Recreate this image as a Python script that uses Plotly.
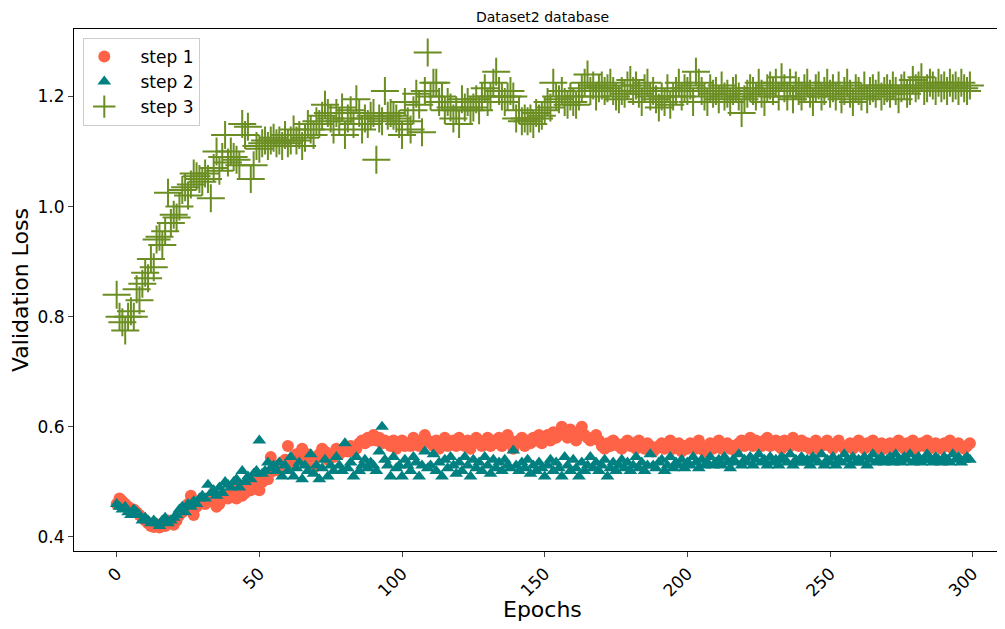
import plotly.graph_objects as go

epochs = list(range(300))

# step 1 validation loss
step1 = [
    0.46, 0.47, 0.465, 0.46, 0.455, 0.45, 0.45, 0.445, 0.44, 0.435,
    0.43, 0.425, 0.42, 0.418, 0.42, 0.417, 0.425, 0.42, 0.43, 0.428,
    0.422, 0.43, 0.44, 0.445, 0.45, 0.46, 0.475, 0.44, 0.455, 0.46,
    0.465, 0.46, 0.47, 0.465, 0.47, 0.455, 0.46, 0.47, 0.475, 0.47,
    0.48, 0.475, 0.47, 0.49, 0.475, 0.48, 0.49, 0.485, 0.495, 0.50,
    0.485, 0.50, 0.51, 0.505, 0.545, 0.52, 0.53, 0.52, 0.535, 0.54,
    0.565, 0.53, 0.54, 0.55, 0.545, 0.56, 0.535, 0.55, 0.545, 0.525,
    0.545, 0.55, 0.56, 0.555, 0.54, 0.55, 0.545, 0.56, 0.55, 0.555,
    0.56, 0.555, 0.565, 0.555, 0.56, 0.57, 0.575, 0.57, 0.58, 0.575,
    0.585, 0.575, 0.58, 0.57, 0.575, 0.57, 0.565, 0.575, 0.56, 0.57,
    0.575, 0.565, 0.57, 0.565, 0.58, 0.57, 0.565, 0.575, 0.585, 0.575,
    0.57, 0.565, 0.575, 0.56, 0.57, 0.58, 0.565, 0.57, 0.575, 0.565,
    0.58, 0.57, 0.565, 0.575, 0.56, 0.57, 0.58, 0.575, 0.565, 0.57,
    0.58, 0.565, 0.575, 0.57, 0.58, 0.565, 0.57, 0.585, 0.575, 0.56,
    0.57, 0.575, 0.58, 0.565, 0.575, 0.57, 0.58, 0.575, 0.585, 0.57,
    0.58, 0.585, 0.575, 0.59, 0.58, 0.585, 0.60, 0.59, 0.58, 0.595,
    0.585, 0.575, 0.59, 0.60, 0.585, 0.58, 0.575, 0.58, 0.585, 0.575,
    0.565, 0.56, 0.57, 0.565, 0.575, 0.57, 0.565, 0.56, 0.57, 0.575,
    0.565, 0.57, 0.56, 0.575, 0.565, 0.56, 0.57, 0.565, 0.555, 0.56,
    0.565, 0.57, 0.56, 0.565, 0.575, 0.56, 0.565, 0.57, 0.555, 0.565,
    0.56, 0.57, 0.565, 0.56, 0.575, 0.565, 0.555, 0.565, 0.57, 0.56,
    0.565, 0.575, 0.56, 0.565, 0.57, 0.56, 0.565, 0.555, 0.57, 0.575,
    0.565, 0.57, 0.58, 0.565, 0.575, 0.57, 0.565, 0.575, 0.58, 0.565,
    0.57, 0.575, 0.565, 0.56, 0.575, 0.57, 0.565, 0.58, 0.57, 0.565,
    0.575, 0.565, 0.57, 0.56, 0.565, 0.575, 0.56, 0.565, 0.57, 0.575,
    0.565, 0.56, 0.57, 0.575, 0.565, 0.56, 0.565, 0.57, 0.56, 0.565,
    0.575, 0.565, 0.56, 0.57, 0.565, 0.575, 0.56, 0.565, 0.57, 0.56,
    0.565, 0.57, 0.56, 0.565, 0.575, 0.565, 0.56, 0.57, 0.565, 0.575,
    0.56, 0.565, 0.57, 0.565, 0.575, 0.56, 0.565, 0.57, 0.565, 0.56,
    0.57, 0.565, 0.575, 0.56, 0.565, 0.57, 0.565, 0.56, 0.565, 0.57,
]

# step 2 validation loss
step2 = [
    0.46, 0.455, 0.45, 0.455, 0.445, 0.44, 0.45, 0.445, 0.44, 0.43,
    0.435, 0.43, 0.425, 0.43, 0.425, 0.42, 0.43, 0.435, 0.425, 0.43,
    0.435, 0.44, 0.45, 0.455, 0.445, 0.46, 0.455, 0.465, 0.46, 0.47,
    0.475, 0.47, 0.495, 0.48, 0.485, 0.475, 0.49, 0.48, 0.50, 0.495,
    0.49, 0.50, 0.505, 0.49, 0.52, 0.50, 0.51, 0.505, 0.515, 0.52,
    0.575, 0.515, 0.52, 0.535, 0.525, 0.53, 0.52, 0.535, 0.51, 0.53,
    0.52, 0.545, 0.51, 0.525, 0.535, 0.505, 0.53, 0.52, 0.55, 0.515,
    0.53, 0.505, 0.525, 0.54, 0.51, 0.53, 0.52, 0.545, 0.53, 0.52,
    0.57, 0.525, 0.535, 0.51, 0.545, 0.52, 0.53, 0.54, 0.525, 0.535,
    0.53, 0.52, 0.555, 0.60, 0.54, 0.53, 0.51, 0.545, 0.525, 0.53,
    0.51, 0.54, 0.53, 0.52, 0.545, 0.535, 0.51, 0.53, 0.555, 0.525,
    0.53, 0.55, 0.52, 0.535, 0.51, 0.54, 0.525, 0.545, 0.53, 0.515,
    0.535, 0.52, 0.545, 0.53, 0.51, 0.54, 0.525, 0.535, 0.52, 0.545,
    0.53, 0.515, 0.54, 0.525, 0.535, 0.52, 0.54, 0.53, 0.525, 0.557,
    0.53, 0.52, 0.535, 0.525, 0.54, 0.515, 0.53, 0.52, 0.535, 0.525,
    0.51, 0.53, 0.54, 0.52, 0.535, 0.525, 0.51, 0.545, 0.53, 0.52,
    0.54, 0.525, 0.51, 0.535, 0.52, 0.53, 0.545, 0.525, 0.535, 0.52,
    0.53, 0.54, 0.51, 0.525, 0.535, 0.52, 0.53, 0.54, 0.525, 0.535,
    0.52, 0.53, 0.545, 0.525, 0.535, 0.52, 0.53, 0.55, 0.53, 0.525,
    0.535, 0.54, 0.52, 0.53, 0.545, 0.525, 0.535, 0.53, 0.54, 0.525,
    0.535, 0.53, 0.545, 0.535, 0.525, 0.54, 0.53, 0.535, 0.545, 0.53,
    0.535, 0.54, 0.53, 0.545, 0.535, 0.525, 0.54, 0.535, 0.55, 0.53,
    0.54, 0.535, 0.545, 0.53, 0.54, 0.55, 0.535, 0.54, 0.53, 0.545,
    0.535, 0.54, 0.53, 0.545, 0.54, 0.535, 0.55, 0.53, 0.54, 0.535,
    0.545, 0.535, 0.54, 0.53, 0.545, 0.54, 0.535, 0.55, 0.53, 0.54,
    0.535, 0.545, 0.53, 0.54, 0.535, 0.55, 0.54, 0.53, 0.545, 0.535,
    0.54, 0.535, 0.545, 0.53, 0.54, 0.55, 0.535, 0.54, 0.545, 0.535,
    0.54, 0.545, 0.535, 0.55, 0.54, 0.535, 0.545, 0.54, 0.55, 0.535,
    0.54, 0.545, 0.535, 0.54, 0.55, 0.54, 0.535, 0.545, 0.54, 0.535,
    0.545, 0.54, 0.535, 0.55, 0.54, 0.545, 0.535, 0.54, 0.545, 0.54,
]

# step 3 validation loss
step3 = [
    0.84, 0.80, 0.79, 0.775, 0.80, 0.81, 0.80, 0.85, 0.83, 0.86,
    0.88, 0.87, 0.905, 0.89, 0.94, 0.945, 0.93, 0.955, 1.025, 0.97,
    0.985, 0.98, 1.00, 1.03, 1.035, 1.02, 1.04, 1.06, 1.055, 1.05,
    1.045, 1.06, 1.05, 1.015, 1.07, 1.10, 1.065, 1.09, 1.13, 1.08,
    1.10, 1.09, 1.085, 1.075, 1.15, 1.13, 1.145, 1.05, 1.075, 1.11,
    1.105, 1.115, 1.12, 1.11, 1.12, 1.125, 1.115, 1.12, 1.11, 1.13,
    1.115, 1.12, 1.14, 1.12, 1.13, 1.11, 1.125, 1.15, 1.14, 1.13,
    1.155, 1.15, 1.165, 1.185, 1.17, 1.16, 1.14, 1.17, 1.155, 1.18,
    1.13, 1.16, 1.175, 1.15, 1.195, 1.17, 1.14, 1.16, 1.15, 1.165,
    1.17, 1.085, 1.16, 1.155, 1.21, 1.165, 1.17, 1.165, 1.16, 1.15,
    1.13, 1.19, 1.155, 1.14, 1.175, 1.205, 1.185, 1.135, 1.21, 1.28,
    1.20, 1.225, 1.225, 1.19, 1.20, 1.175, 1.19, 1.18, 1.16, 1.175,
    1.15, 1.195, 1.18, 1.19, 1.175, 1.18, 1.195, 1.175, 1.20, 1.215,
    1.19, 1.20, 1.225, 1.245, 1.21, 1.20, 1.19, 1.20, 1.21, 1.20,
    1.16, 1.175, 1.155, 1.16, 1.155, 1.16, 1.15, 1.17, 1.16, 1.165,
    1.175, 1.19, 1.18, 1.225, 1.20, 1.195, 1.21, 1.19, 1.185, 1.20,
    1.19, 1.185, 1.20, 1.215, 1.225, 1.24, 1.21, 1.22, 1.20, 1.215,
    1.22, 1.21, 1.215, 1.225, 1.21, 1.20, 1.195, 1.21, 1.205, 1.22,
    1.23, 1.21, 1.22, 1.205, 1.19, 1.215, 1.225, 1.20, 1.21, 1.195,
    1.18, 1.20, 1.19, 1.215, 1.185, 1.20, 1.21, 1.225, 1.20, 1.215,
    1.21, 1.22, 1.19, 1.245, 1.225, 1.21, 1.20, 1.19, 1.215, 1.205,
    1.21, 1.195, 1.22, 1.20, 1.205, 1.19, 1.21, 1.215, 1.20, 1.17,
    1.195, 1.205, 1.215, 1.21, 1.20, 1.225, 1.205, 1.19, 1.215, 1.22,
    1.21, 1.225, 1.20, 1.235, 1.215, 1.20, 1.225, 1.195, 1.22, 1.21,
    1.20, 1.215, 1.225, 1.205, 1.19, 1.215, 1.22, 1.20, 1.21, 1.225,
    1.205, 1.215, 1.20, 1.22, 1.195, 1.21, 1.225, 1.205, 1.19, 1.215,
    1.21, 1.20, 1.22, 1.195, 1.21, 1.215, 1.205, 1.22, 1.20, 1.21,
    1.215, 1.205, 1.22, 1.21, 1.195, 1.215, 1.22, 1.205, 1.21, 1.23,
    1.215, 1.22, 1.235, 1.21, 1.215, 1.225, 1.22, 1.21, 1.225, 1.215,
    1.22, 1.21, 1.225, 1.215, 1.22, 1.21, 1.225, 1.215, 1.21, 1.22,
]

FONT = "DejaVu Sans"
PAD = "\u00a0\u00a0\u00a0"  # push legend text right like matplotlib's handle gap

fig = go.Figure()
fig.add_trace(go.Scatter(x=epochs, y=step1, mode="markers", name=PAD + "step 1",
                         marker=dict(symbol="circle", size=12, color="#ff6347")))
fig.add_trace(go.Scatter(x=epochs, y=step2, mode="markers", name=PAD + "step 2",
                         marker=dict(symbol="triangle-up", size=12, color="#008080")))
fig.add_trace(go.Scatter(x=epochs, y=step3, mode="markers", name=PAD + "step 3",
                         marker=dict(symbol="cross-thin", size=20, color="#6b8e23",
                                     line=dict(color="#6b8e23", width=2))))

# page body has an 8px margin, so the figure is sized to fit inside the window
fig.update_layout(
    width=997, height=621,
    margin=dict(l=66, r=2, t=21, b=78),
    plot_bgcolor="white", paper_bgcolor="white",
    font=dict(family=FONT, color="black"),
    legend=dict(x=0.01, y=0.983, xanchor="left", yanchor="top",
                bordercolor="#cccccc", borderwidth=1, bgcolor="rgba(255,255,255,0.8)",
                font=dict(size=17), itemsizing="trace", tracegroupgap=2),
    showlegend=True,
    annotations=[
        dict(text="Dataset2 database", xref="paper", yref="paper", x=0.5048, y=1.0235,
             xanchor="center", yanchor="middle", showarrow=False, font=dict(size=14)),
        dict(text="Epochs", xref="paper", yref="paper", x=0.5048, y=-0.113,
             xanchor="center", yanchor="middle", showarrow=False, font=dict(size=22)),
        dict(text="Validation Loss", xref="paper", yref="paper", x=-0.0581, y=0.5,
             xanchor="center", yanchor="middle", textangle=-90, showarrow=False,
             font=dict(size=22)),
    ],
)
fig.update_xaxes(
    range=[-14.95, 310.6], tickvals=[0, 50, 100, 150, 200, 250, 300],
    tickangle=-45, tickfont=dict(size=17), ticks="outside", ticklen=5,
    showline=True, linecolor="black", linewidth=1, mirror=True,
    showgrid=False, zeroline=False, automargin=False,
)
fig.update_yaxes(
    range=[0.3745, 1.3225], tickvals=[0.4, 0.6, 0.8, 1.0, 1.2], tickformat=".1f",
    tickfont=dict(size=17), ticks="outside", ticklen=5,
    showline=True, linecolor="black", linewidth=1,
    showgrid=False, zeroline=False, automargin=False,
)

fig.write_html("out.html")
